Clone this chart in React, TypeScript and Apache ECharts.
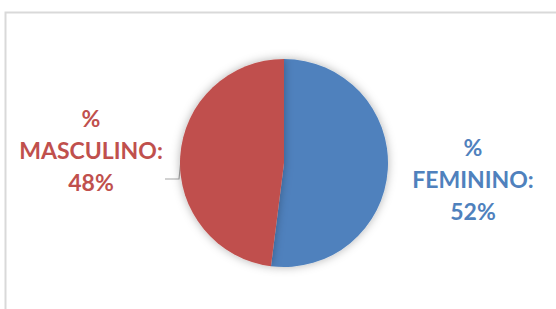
import React, { useEffect, useRef } from "react";
import * as echarts from "echarts";

const categories = ["FEMININO", "MASCULINO"];
const values = [52, 48];
const colors = ["#4F81BD", "#C0504D"];

export default function App() {
  const ref = useRef<HTMLDivElement>(null);
  useEffect(() => {
    document.body.style.margin = "0";
    const chart = echarts.init(ref.current!, null, { renderer: "svg" });
    chart.setOption({
      animation: false,
      backgroundColor: "#ffffff",
      graphic: [
        {
          type: "polyline",
          shape: { points: [[5.5, 320], [5.5, 12.5], [560, 12.5]] },
          style: { stroke: "#d9d9d9", lineWidth: 2, fill: "none" },
          silent: true,
        },
      ],
      series: [
        {
          type: "pie",
          center: [284, 163],
          radius: 104,
          startAngle: 90,
          clockwise: true,
          label: {
            show: true,
            position: "outside",
            overflow: "none",
            formatter: (p: any) => `%\n${p.name}:\n${p.value}%`,
            fontFamily: "Lato",
            fontWeight: "bold",
            fontSize: 23,
            lineHeight: 32,
            align: "center",
          },
          labelLine: { show: true, lineStyle: { color: "#a6a6a6", width: 1.2 } },
          labelLayout: (params: any) => {
            if (params.dataIndex === 0) {
              return { x: 473, y: 179, align: "center", verticalAlign: "middle" };
            }
            return {
              x: 91,
              y: 150,
              align: "center",
              verticalAlign: "middle",
              labelLinePoints: [[181, 160], [179, 179], [165, 179]],
            };
          },
          itemStyle: {
            shadowBlur: 10,
            shadowColor: "rgba(0,0,0,0.3)",
          },
          data: categories.map((c, i) => ({
            name: c,
            value: values[i],
            itemStyle: { color: colors[i] },
            label: { color: colors[i] },
            labelLine: { show: i === 1 },
          })),
        },
      ],
    });
    return () => chart.dispose();
  }, []);
  return <div ref={ref} style={{ position: "absolute", left: 0, top: 0, width: 556, height: 309 }} />;
}
